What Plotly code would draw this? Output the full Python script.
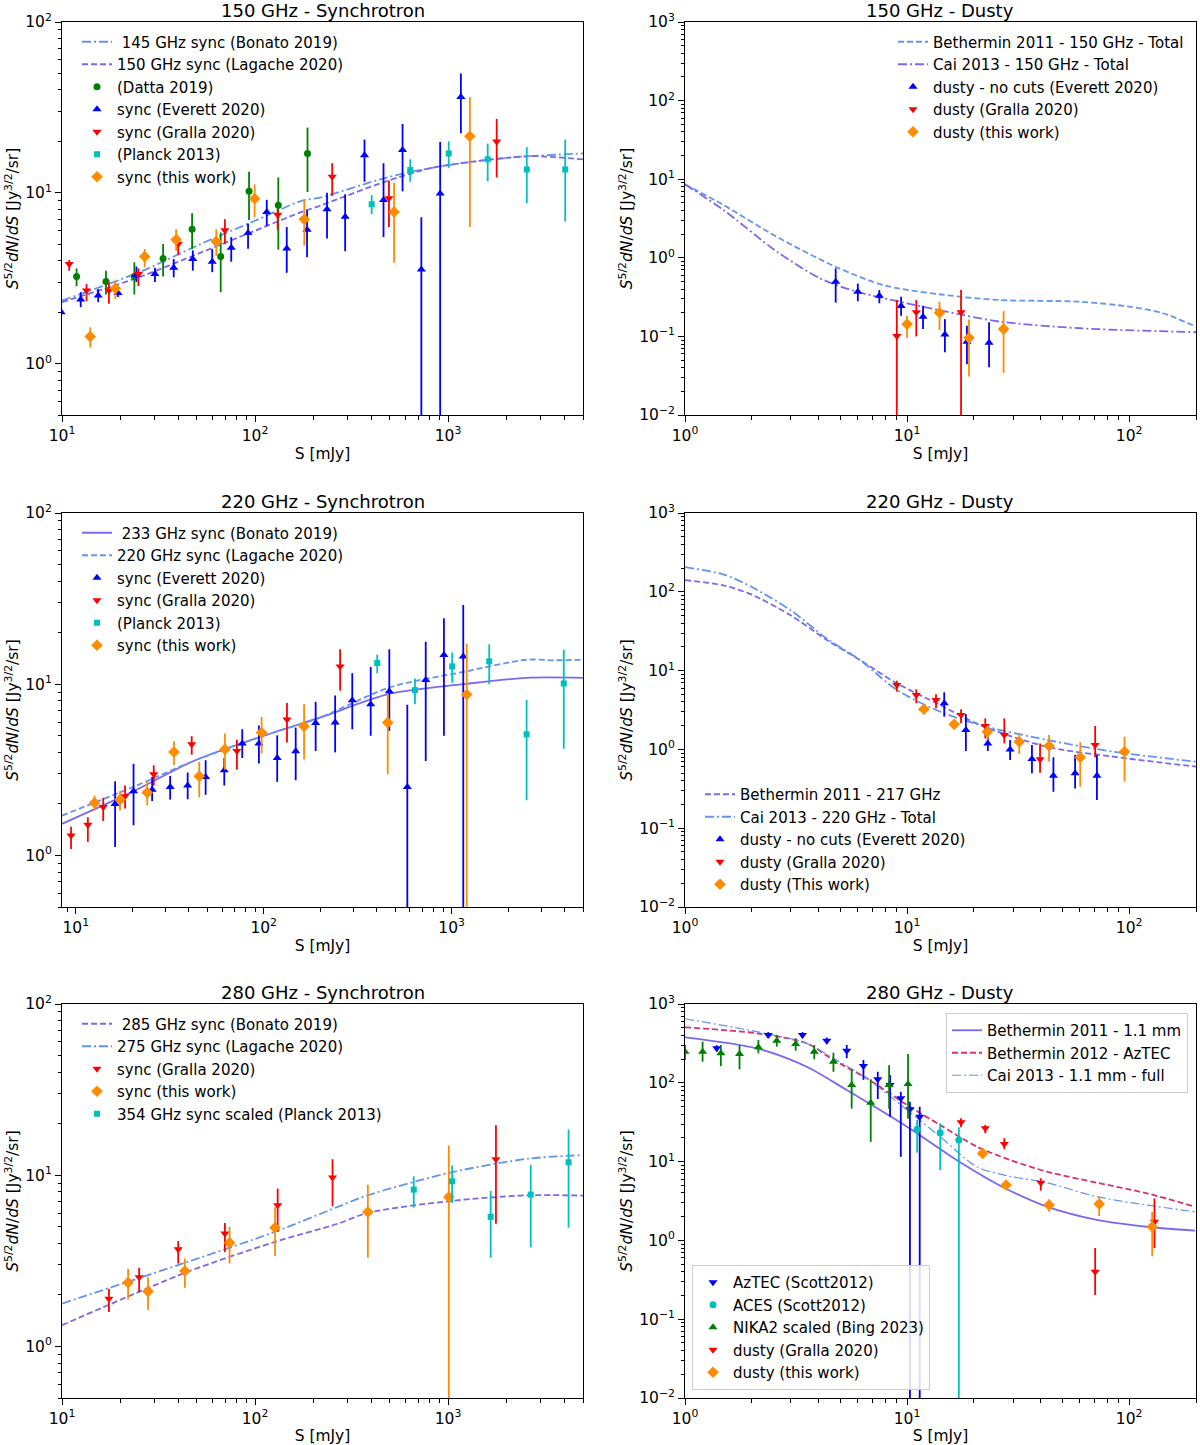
import math
import plotly.graph_objects as go
from plotly.subplots import make_subplots

# ---------------- Panel 1: 150 GHz synchrotron ----------------
p1_bonato_x = [10, 25, 52, 100, 173, 220, 470, 850, 2000, 5000]
p1_bonato_y = [2.34, 3.42, 5.0, 6.86, 8.95, 9.4, 12.2, 14.1, 16.0, 17.0]
p1_lagache_x = [10, 25, 52, 100, 173, 220, 470, 850, 2000, 2800, 5000]
p1_lagache_y = [2.29, 3.2, 4.45, 6.0, 7.7, 8.45, 11.6, 14.1, 16.0, 16.4, 15.7]

p1_datta_x = [11.9, 16.9, 23.7, 33.4, 47.2, 66.4, 93.1, 132, 187]
p1_datta_y = [3.23, 3.02, 3.23, 4.13, 6.12, 4.23, 10.2, 8.45, 17.0]
p1_datta_lo = [2.84, 2.54, 2.54, 3.23, 4.69, 2.62, 6.92, 4.65, 10.1]
p1_datta_hi = [3.61, 3.50, 3.92, 5.01, 7.59, 5.86, 13.3, 12.3, 24.1]

p1_everett_x = [9.9, 12.5, 15.4, 19.5, 24.3, 30.3, 37.9, 47.6, 60, 75.3, 92, 115, 146, 186, 236, 293, 369, 463, 581, 727, 910, 1165]
p1_everett_y = [2.0, 2.37, 2.50, 2.59, 3.3, 3.35, 3.64, 4.09, 3.95, 4.76, 5.81, 7.73, 4.72, 6.07, 8.02, 7.23, 16.6, 9.08, 17.8, 3.55, 9.89, 36.4]
p1_everett_lo = [1.85, 2.14, 2.29, 2.45, 3.0, 3.0, 3.2, 3.5, 3.43, 3.95, 4.7, 6.4, 3.4, 4.2, 5.4, 4.55, 11.6, 5.5, 10.2, 0.05, 0.05, 22.3]
p1_everett_hi = [2.15, 2.62, 2.73, 2.74, 3.7, 3.64, 4.1, 4.6, 4.69, 5.5, 6.6, 9.1, 6.3, 7.9, 10.0, 9.8, 20.5, 14.9, 25.3, 7.2, 19.8, 50.0]

p1_gralla_x = [10.9, 13.4, 17.5, 24.9, 40, 69.8, 131, 251, 494, 1786]
p1_gralla_y = [3.83, 2.68, 2.68, 3.35, 5.01, 6.04, 7.43, 12.4, 9.29, 20.0]
p1_gralla_lo = [3.5, 2.32, 2.24, 2.84, 4.33, 5.01, 6.07, 9.6, 6.3, 12.3]
p1_gralla_hi = [4.04, 2.92, 2.99, 3.61, 5.56, 7.0, 8.02, 14.9, 11.8, 27.1]

p1_planck_x = [402, 637, 1008, 1604, 2557, 4045]
p1_planck_y = [8.57, 13.6, 17.0, 15.7, 13.7, 13.7]
p1_planck_lo = [7.5, 11.6, 14.0, 11.7, 8.7, 6.8]
p1_planck_hi = [9.7, 15.7, 20.0, 19.4, 18.5, 20.5]

p1_this_x = [14, 18.9, 26.8, 39, 63, 99.5, 180, 525, 1297]
p1_this_y = [1.44, 2.76, 4.23, 5.31, 5.19, 9.24, 7.0, 7.73, 21.4]
p1_this_lo = [1.24, 2.39, 3.66, 4.58, 4.28, 7.2, 4.9, 3.9, 6.3]
p1_this_hi = [1.63, 3.06, 4.69, 6.12, 6.12, 11.2, 9.1, 11.5, 36.3]

# ---------------- Panel 2: 150 GHz dusty ----------------
p2_beth_x = [1, 1.49, 2.59, 4.82, 8.1, 17.3, 26.2, 60, 100, 142, 200]
p2_beth_y = [8.6, 4.7, 1.85, 0.757, 0.438, 0.32, 0.29, 0.276, 0.239, 0.197, 0.133]
p2_cai_x = [1, 1.49, 2.59, 4.06, 5.93, 10, 15.1, 26.2, 60, 200]
p2_cai_y = [8.6, 4.06, 1.20, 0.548, 0.371, 0.264, 0.206, 0.154, 0.127, 0.113]

p2_everett_x = [4.77, 6.0, 7.5, 9.4, 11.8, 14.8, 18.6, 23.4]
p2_everett_y = [0.497, 0.371, 0.33, 0.244, 0.178, 0.106, 0.0857, 0.083]
p2_everett_lo = [0.269, 0.28, 0.264, 0.183, 0.124, 0.0628, 0.0442, 0.0405]
p2_everett_hi = [0.735, 0.47, 0.389, 0.32, 0.246, 0.166, 0.137, 0.151]

p2_gralla_x = [8.99, 11.0, 17.5]
p2_gralla_y = [0.101, 0.203, 0.203]
p2_gralla_lo = [1e-4, 0.1, 1e-4]
p2_gralla_hi = [0.29, 0.29, 0.389]

p2_this_x = [10, 14, 19, 27.2]
p2_this_y = [0.143, 0.2, 0.096, 0.124]
p2_this_lo = [0.096, 0.12, 0.031, 0.0343]
p2_this_hi = [0.183, 0.276, 0.164, 0.21]

# ---------------- Panel 3: 220 GHz synchrotron ----------------
p3_bonato_x = [8.45, 20, 42.3, 100, 199, 470, 1153, 2505, 5000]
p3_bonato_y = [1.53, 2.35, 3.56, 5.0, 6.38, 8.8, 10.0, 10.9, 10.9]
p3_lagache_x = [8.45, 20, 42.3, 100, 199, 470, 1153, 2505, 3500, 5000]
p3_lagache_y = [1.71, 2.5, 3.56, 5.0, 6.38, 9.6, 11.8, 13.9, 13.8, 13.9]

p3_everett_x = [16.2, 20.3, 25.5, 31.8, 39.4, 49.1, 61.7, 76.9, 94.3, 118, 148, 189, 240, 296, 371, 466, 581, 728, 910, 1153]
p3_everett_y = [2.0, 2.37, 2.42, 2.51, 2.56, 2.87, 3.14, 4.5, 4.5, 3.71, 4.06, 5.94, 5.97, 8.05, 7.63, 9.1, 2.51, 10.6, 14.8, 14.5]
p3_everett_lo = [1.12, 1.50, 2.08, 2.12, 2.13, 2.26, 2.56, 3.71, 3.44, 2.69, 2.75, 4.07, 4.0, 5.46, 5.0, 5.34, 0.05, 3.56, 5.0, 0.05]
p3_everett_hi = [2.71, 3.43, 2.87, 2.91, 3.05, 3.6, 3.71, 5.46, 5.75, 5.03, 5.58, 7.89, 8.6, 11.6, 12.6, 16.0, 7.6, 17.7, 24.3, 29.0]

p3_gralla_x = [9.44, 11.6, 14, 18.3, 26, 41.4, 72, 133, 255]
p3_gralla_y = [1.31, 1.51, 1.92, 2.22, 2.98, 4.46, 4.07, 6.22, 12.7]
p3_gralla_lo = [1.09, 1.20, 1.59, 1.88, 2.56, 3.88, 3.17, 4.56, 9.2]
p3_gralla_hi = [1.47, 1.67, 2.17, 2.56, 3.36, 4.97, 4.75, 7.78, 16.0]

p3_planck_x = [402, 638, 1007, 1585, 2505, 3950]
p3_planck_y = [13.3, 9.23, 12.7, 13.6, 5.1, 10.1]
p3_planck_lo = [11.6, 7.63, 10.2, 10.0, 2.1, 4.2]
p3_planck_hi = [14.9, 10.8, 15.3, 17.1, 8.1, 15.9]

p3_this_x = [12.6, 17.2, 24, 33.3, 45.4, 62.2, 97.5, 164, 457, 1203]
p3_this_y = [2.03, 2.12, 2.33, 4.02, 2.90, 4.17, 5.22, 5.68, 5.97, 8.71]
p3_this_lo = [1.83, 1.83, 1.96, 3.36, 2.19, 3.17, 3.94, 3.63, 2.98, 0.05]
p3_this_hi = [2.24, 2.37, 2.69, 4.65, 3.52, 5.15, 6.44, 7.64, 8.8, 17.3]

# ---------------- Panel 4: 220 GHz dusty ----------------
p4_beth_x = [1, 1.5, 2, 3, 4.35, 6.14, 8.99, 14.1, 21.3, 42.6, 85, 200]
p4_beth_y = [141, 120, 92, 50, 24.5, 13.6, 6.9, 3.66, 2.04, 1.08, 0.808, 0.604]
p4_cai_x = [1, 1.5, 2, 3, 4.35, 6.14, 8.99, 14.1, 21.3, 42.6, 85, 200]
p4_cai_y = [206, 165, 115, 58, 25.5, 13.6, 5.68, 3.01, 2.04, 1.32, 0.935, 0.698]

p4_everett_x = [14.7, 18.4, 23.1, 29.1, 36.5, 45.6, 57.1, 71.6]
p4_everett_y = [3.85, 1.76, 1.19, 1.0, 0.755, 0.464, 0.497, 0.464]
p4_everett_lo = [2.6, 0.955, 0.955, 0.733, 0.498, 0.29, 0.32, 0.228]
p4_everett_hi = [5.31, 2.81, 1.45, 1.32, 1.14, 0.794, 0.85, 0.85]

p4_gralla_x = [8.99, 11, 13.5, 17.5, 22.5, 27.4, 39.7, 70.3]
p4_gralla_y = [6.56, 4.9, 4.24, 2.73, 1.98, 1.52, 0.748, 1.14]
p4_gralla_lo = [5.4, 3.85, 3.32, 2.14, 1.38, 1.19, 0.506, 0.794]
p4_gralla_hi = [7.45, 5.79, 5.0, 3.23, 2.48, 2.48, 1.19, 1.98]

p4_this_x = [11.9, 16.3, 23, 32, 43.6, 60.2, 95.3]
p4_this_y = [3.23, 2.08, 1.68, 1.25, 1.11, 0.794, 0.935]
p4_this_lo = [2.95, 1.9, 1.32, 0.875, 0.698, 0.337, 0.389]
p4_this_hi = [3.55, 2.3, 1.98, 1.57, 1.52, 1.23, 1.45]

# ---------------- Panel 5: 280 GHz synchrotron ----------------
p5_bonato_x = [10, 44.4, 126, 268, 384, 1042, 2612, 5000]
p5_bonato_y = [1.33, 2.72, 4.07, 5.21, 6.03, 7.08, 7.64, 7.6]
p5_lagache_x = [10, 44.4, 126, 268, 384, 1042, 2612, 5000]
p5_lagache_y = [1.78, 3.11, 4.66, 6.53, 7.64, 10.4, 12.5, 13.1]

p5_gralla_x = [17.5, 25.1, 40, 69.8, 131, 252, 1770]
p5_gralla_y = [1.90, 2.54, 3.69, 4.56, 6.68, 9.7, 12.4]
p5_gralla_lo = [1.59, 2.08, 3.05, 3.56, 4.66, 6.59, 5.2]
p5_gralla_hi = [2.17, 2.88, 4.13, 5.26, 8.35, 12.4, 19.6]

p5_this_x = [22, 27.9, 43.3, 73.8, 127, 384, 1009]
p5_this_y = [2.36, 2.10, 2.76, 4.03, 4.94, 6.1, 7.46]
p5_this_lo = [1.88, 1.64, 2.20, 3.05, 3.37, 3.3, 0.05]
p5_this_hi = [2.84, 2.54, 3.26, 4.99, 6.53, 8.8, 14.9]

p5_planck_x = [664, 1050, 1662, 2680, 4210]
p5_planck_y = [8.24, 9.22, 5.71, 7.71, 11.9]
p5_planck_lo = [6.47, 6.89, 3.3, 3.8, 4.94]
p5_planck_hi = [9.86, 11.4, 8.1, 11.5, 18.5]

# ---------------- Panel 6: 280 GHz dusty ----------------
p6_beth11_x = [1, 2.1, 3.53, 5.35, 10, 16.7, 27.2, 42.6, 71.5, 120, 198]
p6_beth11_y = [378, 274, 160, 81, 27.7, 10.5, 4.7, 2.68, 1.82, 1.49, 1.33]
p6_beth12_x = [1, 2.1, 3.53, 4.66, 6.58, 10, 14.1, 20.6, 29.1, 42.6, 71.5, 120, 198]
p6_beth12_y = [506, 425, 317, 195, 114, 52.2, 29.1, 15.5, 10.5, 7.45, 5.4, 3.96, 2.68]
p6_cai_x = [1, 2.1, 3.53, 4.66, 6.58, 10, 14.1, 20.6, 29.1, 42.6, 71.5, 120, 198]
p6_cai_y = [650, 446, 317, 205, 114, 45.2, 20.7, 8.6, 6.5, 5.4, 3.59, 2.81, 2.31]

p6_aztec_x = [1.39, 2.37, 3.38, 4.35, 5.35, 6.36, 7.38, 8.38, 9.37, 10.3, 11.4]
p6_aztec_y = [274, 405, 405, 342, 255, 163, 111, 93.7, 63.5, 46.1, 37.1]
p6_aztec_lo = [250, 370, 370, 310, 205, 109, 62.2, 37.1, 11.5, 1e-4, 1e-4]
p6_aztec_hi = [300, 440, 440, 375, 302, 195, 138, 126, 77, 57.5, 49.7]

p6_aces_x = [11.1, 14.1, 17.1]
p6_aces_y = [25.7, 23.3, 18.8]
p6_aces_lo = [13.0, 7.8, 1e-4]
p6_aces_hi = [33.9, 30.6, 27.3]

p6_nika_x = [1.0, 1.2, 1.45, 1.76, 2.14, 2.59, 3.15, 3.82, 4.66, 5.63, 6.86, 8.3, 10.1]
p6_nika_y = [248, 248, 237, 232, 282, 342, 310, 248, 185, 93.7, 55.8, 93.7, 96.6]
p6_nika_lo = [195, 185, 163, 148, 237, 287, 255, 199, 138, 47, 17.8, 47, 35]
p6_nika_hi = [302, 333, 302, 302, 349, 405, 367, 302, 241, 148, 111, 167, 232]

p6_gralla_x = [17.5, 22.5, 27.4, 40, 70.3, 130]
p6_gralla_y = [31.6, 26.5, 16.7, 5.4, 0.40, 1.73]
p6_gralla_lo = [27.2, 22.9, 14.3, 4.28, 0.203, 0.8]
p6_gralla_hi = [35.4, 29.1, 19.8, 6.14, 0.8, 3.4]

p6_this_x = [21.9, 27.9, 43.6, 73.3, 127]
p6_this_y = [12.7, 5.05, 2.81, 2.9, 1.49]
p6_this_lo = [11.5, 4.6, 2.31, 2.04, 0.63]
p6_this_hi = [14.0, 5.6, 3.33, 3.59, 2.3]

titles = ["150 GHz - Synchrotron", "150 GHz - Dusty", "220 GHz - Synchrotron",
          "220 GHz - Dusty", "280 GHz - Synchrotron", "280 GHz - Dusty"]

# ---------------- styling ----------------
W, H = 1200, 1445
FONT = "DejaVu Sans"
LB = "#6495ED"
PU = "#7B68EE"
CR = "#DC2F6E"
BLUE = "#0000FF"
RED = "#FF0000"
CYAN = "#00BFBF"
GREEN = "#008000"
ORANGE = "#FF8C00"
DASH = "6px,3px"
DASHDOT = "9px,3px,2px,3px"

fig = make_subplots(rows=3, cols=2)


def px_x(p):
    return p / W


def px_y(p):
    return 1 - p / H


def add_line(row, col, x, y, name, color, dash, legend, width=1.8):
    fig.add_trace(go.Scatter(x=x, y=y, mode="lines", name=name,
                             line=dict(color=color, dash=dash, width=width, shape="spline", smoothing=0.8),
                             legend=legend, hoverinfo="skip"), row=row, col=col)


def add_err(row, col, x, y, lo, hi, name, color, symbol, size, legend):
    plus = [h - v for h, v in zip(hi, y)]
    minus = [v - l for l, v in zip(lo, y)]
    fig.add_trace(go.Scatter(x=x, y=y, mode="markers", name=name,
                             marker=dict(color=color, symbol=symbol, size=size, line=dict(width=0)),
                             error_y=dict(type="data", symmetric=False, array=plus, arrayminus=minus,
                                          color=color, thickness=1.8, width=0),
                             legend=legend), row=row, col=col)


# Panel 1
add_line(1, 1, p1_bonato_x, p1_bonato_y, " 145 GHz sync (Bonato 2019)", LB, DASHDOT, "legend")
add_line(1, 1, p1_lagache_x, p1_lagache_y, "150 GHz sync (Lagache 2020)", PU, DASH, "legend")
add_err(1, 1, p1_datta_x, p1_datta_y, p1_datta_lo, p1_datta_hi, "(Datta 2019)", GREEN, "circle", 7, "legend")
add_err(1, 1, p1_everett_x, p1_everett_y, p1_everett_lo, p1_everett_hi, "sync (Everett 2020)", BLUE, "triangle-up", 8, "legend")
add_err(1, 1, p1_gralla_x, p1_gralla_y, p1_gralla_lo, p1_gralla_hi, "sync (Gralla 2020)", RED, "triangle-down", 8, "legend")
add_err(1, 1, p1_planck_x, p1_planck_y, p1_planck_lo, p1_planck_hi, "(Planck 2013)", CYAN, "square", 6, "legend")
add_err(1, 1, p1_this_x, p1_this_y, p1_this_lo, p1_this_hi, "sync (this work)", ORANGE, "diamond", 9, "legend")

# Panel 2
add_line(1, 2, p2_beth_x, p2_beth_y, "Bethermin 2011 - 150 GHz - Total", LB, DASH, "legend2")
add_line(1, 2, p2_cai_x, p2_cai_y, "Cai 2013 - 150 GHz - Total", PU, DASHDOT, "legend2")
add_err(1, 2, p2_everett_x, p2_everett_y, p2_everett_lo, p2_everett_hi, "dusty - no cuts (Everett 2020)", BLUE, "triangle-up", 8, "legend2")
add_err(1, 2, p2_gralla_x, p2_gralla_y, p2_gralla_lo, p2_gralla_hi, "dusty (Gralla 2020)", RED, "triangle-down", 8, "legend2")
add_err(1, 2, p2_this_x, p2_this_y, p2_this_lo, p2_this_hi, "dusty (this work)", ORANGE, "diamond", 9, "legend2")

# Panel 3
add_line(2, 1, p3_bonato_x, p3_bonato_y, " 233 GHz sync (Bonato 2019)", PU, "solid", "legend3")
add_line(2, 1, p3_lagache_x, p3_lagache_y, "220 GHz sync (Lagache 2020)", LB, DASH, "legend3")
add_err(2, 1, p3_everett_x, p3_everett_y, p3_everett_lo, p3_everett_hi, "sync (Everett 2020)", BLUE, "triangle-up", 8, "legend3")
add_err(2, 1, p3_gralla_x, p3_gralla_y, p3_gralla_lo, p3_gralla_hi, "sync (Gralla 2020)", RED, "triangle-down", 8, "legend3")
add_err(2, 1, p3_planck_x, p3_planck_y, p3_planck_lo, p3_planck_hi, "(Planck 2013)", CYAN, "square", 6, "legend3")
add_err(2, 1, p3_this_x, p3_this_y, p3_this_lo, p3_this_hi, "sync (this work)", ORANGE, "diamond", 9, "legend3")

# Panel 4
add_line(2, 2, p4_beth_x, p4_beth_y, "Bethermin 2011 - 217 GHz", PU, DASH, "legend4")
add_line(2, 2, p4_cai_x, p4_cai_y, "Cai 2013 - 220 GHz - Total", LB, DASHDOT, "legend4")
add_err(2, 2, p4_everett_x, p4_everett_y, p4_everett_lo, p4_everett_hi, "dusty - no cuts (Everett 2020)", BLUE, "triangle-up", 8, "legend4")
add_err(2, 2, p4_gralla_x, p4_gralla_y, p4_gralla_lo, p4_gralla_hi, "dusty (Gralla 2020)", RED, "triangle-down", 8, "legend4")
add_err(2, 2, p4_this_x, p4_this_y, p4_this_lo, p4_this_hi, "dusty (This work)", ORANGE, "diamond", 9, "legend4")

# Panel 5
add_line(3, 1, p5_bonato_x, p5_bonato_y, " 285 GHz sync (Bonato 2019)", PU, DASH, "legend5")
add_line(3, 1, p5_lagache_x, p5_lagache_y, "275 GHz sync (Lagache 2020)", LB, DASHDOT, "legend5")
add_err(3, 1, p5_gralla_x, p5_gralla_y, p5_gralla_lo, p5_gralla_hi, "sync (Gralla 2020)", RED, "triangle-down", 8, "legend5")
add_err(3, 1, p5_this_x, p5_this_y, p5_this_lo, p5_this_hi, "sync (this work)", ORANGE, "diamond", 9, "legend5")
add_err(3, 1, p5_planck_x, p5_planck_y, p5_planck_lo, p5_planck_hi, "354 GHz sync scaled (Planck 2013)", CYAN, "square", 6, "legend5")

# Panel 6
add_line(3, 2, p6_beth11_x, p6_beth11_y, "Bethermin 2011 - 1.1 mm", PU, "solid", "legend6")
add_line(3, 2, p6_beth12_x, p6_beth12_y, "Bethermin 2012 - AzTEC", CR, DASH, "legend6")
add_line(3, 2, p6_cai_x, p6_cai_y, "Cai 2013 - 1.1 mm - full", LB, DASHDOT, "legend6", width=1.2)
add_err(3, 2, p6_aztec_x, p6_aztec_y, p6_aztec_lo, p6_aztec_hi, "AzTEC (Scott2012)", BLUE, "triangle-down", 8, "legend7")
add_err(3, 2, p6_aces_x, p6_aces_y, p6_aces_lo, p6_aces_hi, "ACES (Scott2012)", CYAN, "circle", 7, "legend7")
add_err(3, 2, p6_nika_x, p6_nika_y, p6_nika_lo, p6_nika_hi, "NIKA2 scaled (Bing 2023)", GREEN, "triangle-up", 8, "legend7")
add_err(3, 2, p6_gralla_x, p6_gralla_y, p6_gralla_lo, p6_gralla_hi, "dusty (Gralla 2020)", RED, "triangle-down", 8, "legend7")
add_err(3, 2, p6_this_x, p6_this_y, p6_this_lo, p6_this_hi, "dusty (this work)", ORANGE, "diamond", 9, "legend7")

# ---------------- axes ----------------
XD = {1: [62, 583], 2: [685, 1196]}
YD = {1: [22, 415], 2: [513, 907], 3: [1004, 1398]}
XR = {(1, 1): (10, 5000), (1, 2): (1, 200), (2, 1): (8.45, 5000), (2, 2): (1, 200), (3, 1): (10, 5000), (3, 2): (1, 200)}
YR = {(1, 1): (0.5, 100), (1, 2): (0.01, 1000), (2, 1): (0.5, 100), (2, 2): (0.01, 1000), (3, 1): (0.5, 100), (3, 2): (0.01, 1000)}


def sup(d):
    return "10<sup>%s</sup>" % (str(d) if d >= 0 else "\u2212" + str(-d))


def log_ticks(lo, hi):
    a, b = math.log10(lo), math.log10(hi)
    majors = [d for d in range(math.floor(a), math.ceil(b) + 1) if a - 1e-9 <= d <= b + 1e-9]
    minors = [k * 10.0 ** d for d in range(math.floor(a) - 1, math.ceil(b) + 1) for k in range(2, 10)
              if a - 1e-9 <= math.log10(k * 10.0 ** d) <= b + 1e-9]
    return [10.0 ** d for d in majors], [sup(d) for d in majors], minors


ytitle = "<i>S</i><sup>5/2</sup><i>dN</i>/<i>dS</i> [Jy<sup>3/2</sup>/sr]"
axis_common = dict(type="log", showline=True, linecolor="black", linewidth=1, mirror=True, automargin=False,
                   ticks="outside", ticklen=6, tickwidth=1, tickcolor="black", showgrid=False, zeroline=False,
                   tickfont=dict(family=FONT, size=15.5, color="black"))

annotations = []
for r in (1, 2, 3):
    for c in (1, 2):
        xv, xt, xm = log_ticks(*XR[(r, c)])
        yv, yt, ym = log_ticks(*YR[(r, c)])
        fig.update_xaxes(row=r, col=c, **axis_common,
                         domain=[px_x(XD[c][0]), px_x(XD[c][1])],
                         range=[math.log10(XR[(r, c)][0]), math.log10(XR[(r, c)][1])],
                         tickmode="array", tickvals=xv, ticktext=xt,
                         minor=dict(tickmode="array", tickvals=xm, ticks="outside", ticklen=3.5, tickcolor="black", showgrid=False),
                         title=dict(text="S [mJy]", font=dict(family=FONT, size=15.5, color="black"), standoff=4))
        fig.update_yaxes(row=r, col=c, **axis_common,
                         domain=[px_y(YD[r][1]), px_y(YD[r][0])],
                         range=[math.log10(YR[(r, c)][0]), math.log10(YR[(r, c)][1])],
                         tickmode="array", tickvals=yv, ticktext=yt,
                         minor=dict(tickmode="array", tickvals=ym, ticks="outside", ticklen=3.5, tickcolor="black", showgrid=False),
                         title=dict(text=ytitle, font=dict(family=FONT, size=15.5, color="black"), standoff=2))
        annotations.append(dict(text=titles[(r - 1) * 2 + (c - 1)], x=(px_x(XD[c][0]) + px_x(XD[c][1])) / 2,
                                y=px_y(YD[r][0]), xref="paper", yref="paper", xanchor="center", yanchor="bottom",
                                showarrow=False, font=dict(family=FONT, size=18, color="black"), yshift=-1))


def leg(xp, yp, xa, ya, frame=False):
    d = dict(x=px_x(xp), y=px_y(yp), xanchor=xa, yanchor=ya,
             font=dict(family=FONT, size=15, color="black"), tracegroupgap=0, itemwidth=30,
             bgcolor="rgba(255,255,255,0)", borderwidth=0)
    if frame:
        d.update(bgcolor="rgba(255,255,255,0.85)", bordercolor="#CCCCCC", borderwidth=1)
    return d


fig.update_layout(
    width=W, height=H, margin=dict(l=0, r=0, t=0, b=0, autoexpand=False),
    paper_bgcolor="white", plot_bgcolor="white",
    font=dict(family=FONT, size=15, color="black"),
    annotations=annotations,
    legend=leg(77, 25.5, "left", "top"),
    legend2=leg(1189, 25.5, "right", "top"),
    legend3=leg(77, 516.5, "left", "top"),
    legend4=leg(700, 901, "left", "bottom"),
    legend5=leg(77, 1007.5, "left", "top"),
    legend6=leg(1188, 1013, "right", "top", frame=True),
    legend7=leg(692, 1390, "left", "bottom", frame=True),
    hovermode=False,
)

fig.write_html("out.html")
